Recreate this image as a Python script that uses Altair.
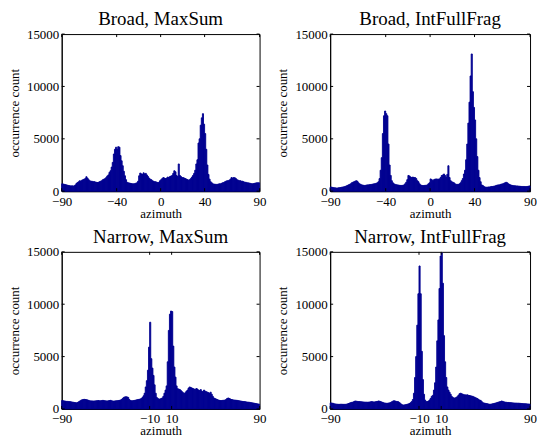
import altair as alt
import pandas as pd

# 1-degree azimuth bins, starting at -90 .. 89
BIN_START = list(range(-90, 90))

BROAD_MAXSUM = [
    700, 680, 650, 620, 600, 560, 540, 520, 500, 520,
    480, 520, 600, 750, 820, 900, 1000, 950, 1050, 1100,
    1150, 1200, 1380, 1250, 1100, 1000, 950, 950, 900, 920,
    880, 850, 830, 850, 900, 950, 1000, 1100, 1150, 1200,
    1300, 1450, 1550, 1800, 1950, 2300, 2750, 3550, 4000, 4200,
    4000, 4250, 4200, 3400, 2900, 2430, 1900, 1470, 1100, 850,
    800, 780, 750, 720, 700, 700, 720, 760, 800, 950,
    1470, 1730, 1650, 1600, 1750, 1650, 1700, 1550, 1400, 1250,
    1150, 1100, 1000, 950, 900, 900, 850, 820, 850, 1000,
    1100, 1200, 1300, 1250, 1200, 1250, 1350, 1300, 1400, 1450,
    1500, 1700, 1950, 1850, 1500, 1400, 2600, 1500, 1400, 1300,
    1300, 1250, 1200, 1150, 1100, 1050, 1100, 1200, 1350, 1500,
    1700, 2000, 2600, 3000, 4600, 5000, 6300, 7000, 7400, 6400,
    5500, 4000, 2500, 1600, 1150, 900, 800, 700, 680, 660,
    650, 650, 680, 700, 700, 750, 800, 830, 900, 950,
    1000, 1000, 1050, 1150, 1300, 1250, 1300, 1280, 1200, 1100,
    1050, 1000, 1000, 950, 950, 900, 850, 850, 800, 800,
    780, 750, 720, 700, 720, 750, 780, 800, 800, 800,
]

BROAD_INTFULLFRAG = [
    400, 380, 350, 330, 320, 300, 300, 320, 330, 350,
    380, 400, 420, 450, 500, 550, 600, 650, 700, 800,
    850, 900, 950, 1000, 950, 800, 700, 650, 600, 580,
    550, 550, 580, 600, 600, 620, 630, 650, 680, 700,
    720, 750, 800, 900, 1200, 2000, 3200, 5500, 7200, 7650,
    7400, 7200, 4500, 2500, 1500, 1000, 800, 700, 650, 620,
    600, 580, 560, 550, 550, 560, 600, 700, 850, 1100,
    1500, 1450, 1350, 1300, 1350, 1300, 1300, 1200, 1000, 900,
    700, 600, 550, 540, 540, 560, 560, 600, 700, 800,
    1170, 1100, 1000, 1100, 1150, 1170, 1150, 1150, 1170, 1300,
    1490, 1550, 1640, 1500, 1330, 1600, 2430, 1300, 1000, 900,
    850, 800, 700, 650, 650, 650, 700, 800, 1000, 1200,
    1640, 2000, 3000, 4500, 6500, 8500, 11000, 13100, 9500, 8000,
    6800, 5000, 3300, 2000, 1300, 900, 600, 540, 450, 400,
    380, 380, 400, 400, 420, 450, 450, 480, 500, 550,
    580, 600, 600, 650, 680, 700, 750, 800, 850, 800,
    700, 650, 600, 560, 540, 520, 520, 500, 500, 480,
    470, 460, 450, 450, 450, 440, 440, 450, 470, 500,
]

NARROW_MAXSUM = [
    800, 780, 760, 740, 720, 720, 700, 700, 680, 660,
    640, 620, 600, 580, 620, 680, 750, 820, 870, 900,
    920, 900, 880, 860, 820, 780, 770, 770, 760, 760,
    770, 780, 790, 800, 780, 780, 800, 820, 800, 780,
    770, 760, 780, 800, 820, 780, 760, 750, 770, 780,
    790, 800, 820, 850, 900, 1000, 1100, 1150, 1170, 1150,
    1100, 900, 800, 780, 780, 800, 820, 850, 880, 900,
    920, 950, 1000, 1100, 1250, 1500, 2100, 2700, 3700, 5900,
    8280, 4800, 3900, 3200, 2300, 1500, 1100, 1000, 950, 950,
    1000, 1050, 1200, 1500, 1800, 2200, 4500, 7500, 9050, 9350,
    9300, 6000, 4000, 3040, 2200, 1930, 1900, 1850, 1750, 1650,
    1550, 1470, 1550, 1700, 1800, 2000, 2100, 2050, 2000, 1950,
    1900, 1850, 1950, 1900, 1800, 1750, 1850, 1700, 1650, 1800,
    1700, 1650, 1600, 1550, 1500, 1600, 1400, 1200, 1050, 1000,
    950, 900, 850, 820, 800, 800, 820, 830, 850, 900,
    1000, 1050, 1000, 950, 900, 880, 850, 850, 830, 820,
    800, 780, 760, 740, 720, 700, 700, 680, 660, 650,
    640, 620, 600, 580, 560, 540, 520, 500, 480, 460,
]

NARROW_INTFULLFRAG = [
    580, 560, 540, 500, 480, 460, 450, 440, 440, 450,
    450, 440, 440, 440, 450, 480, 520, 560, 600, 630,
    650, 700, 760, 740, 720, 700, 700, 690, 680, 670,
    660, 650, 650, 640, 650, 660, 680, 700, 680, 660,
    680, 700, 720, 760, 740, 700, 660, 620, 580, 560,
    540, 540, 560, 580, 620, 680, 740, 790, 760, 720,
    700, 680, 600, 500, 420, 380, 380, 400, 420, 450,
    480, 520, 600, 700, 900, 1500, 3000, 5000, 8000, 11000,
    13650, 11000, 5500, 2800, 1400, 850, 700, 700, 750, 850,
    1000, 1200, 1300, 1800, 2500, 4000, 6500, 8500, 11500, 14600,
    14900, 12000, 7000, 4500, 3000, 2100, 1800, 1600, 1400, 1200,
    1100, 1050, 1050, 1100, 1170, 1300, 1450, 1500, 1450, 1400,
    1350, 1350, 1330, 1350, 1300, 1280, 1250, 1230, 1200, 1150,
    1100, 1050, 1000, 920, 850, 820, 700, 600, 570, 540,
    520, 500, 470, 450, 450, 470, 500, 520, 550, 580,
    620, 650, 680, 700, 760, 720, 680, 650, 640, 620,
    620, 600, 600, 590, 580, 570, 560, 560, 550, 550,
    540, 530, 520, 510, 500, 500, 490, 480, 470, 460,
]

TITLES = ["Broad, MaxSum", "Broad, IntFullFrag", "Narrow, MaxSum", "Narrow, IntFullFrag"]
SERIES = [BROAD_MAXSUM, BROAD_INTFULLFRAG, NARROW_MAXSUM, NARROW_INTFULLFRAG]
XTICKS_BROAD = [-90, -40, 0, 40, 90]
XTICKS_NARROW = [-90, -10, 10, 90]
XTICKS = [XTICKS_BROAD, XTICKS_BROAD, XTICKS_NARROW, XTICKS_NARROW]
YTICKS = [0, 5000, 10000, 15000]

FONT = "Liberation Serif"
BAR = "#000090"
W_LEFT, W_RIGHT, H = 199, 201, 158
TL = 3  # inward tick length (px)


def panel(title, counts, xticks, width):
    df = pd.DataFrame({
        "a": BIN_START,
        "a2": [b + 1 for b in BIN_START],
        "count": counts,
    })
    xs = alt.Scale(domain=[-90, 90], nice=False, zero=False)
    ys = alt.Scale(domain=[0, 15000], nice=False)
    xax = alt.Axis(values=xticks, format="d", title="azimuth",
                   ticks=False, grid=False, labelPadding=4, titlePadding=-1,
                   labelFlush=False, labelOverlap=False)
    yax = alt.Axis(values=YTICKS, format="d", title="occurrence count",
                   ticks=False, grid=False, labelPadding=3, titlePadding=5,
                   labelFlush=False, labelOverlap=False)
    bars = alt.Chart(df).mark_rect(color=BAR, stroke=BAR, strokeWidth=0.9).encode(
        x=alt.X("a:Q", scale=xs, axis=xax),
        x2="a2",
        y=alt.Y("count:Q", scale=ys, axis=yax),
        y2=alt.datum(0),
    )
    xt = pd.DataFrame({"t": xticks})
    yt = pd.DataFrame({"t": YTICKS})
    xb = alt.Chart(xt).mark_rule(color="black", strokeWidth=1).encode(
        x=alt.X("t:Q", scale=xs, axis=xax), y=alt.value(H), y2=alt.value(H - TL))
    xtop = alt.Chart(xt).mark_rule(color="black", strokeWidth=1).encode(
        x=alt.X("t:Q", scale=xs, axis=xax), y=alt.value(0), y2=alt.value(TL))
    yl = alt.Chart(yt).mark_rule(color="black", strokeWidth=1).encode(
        y=alt.Y("t:Q", scale=ys, axis=yax), x=alt.value(0), x2=alt.value(TL))
    yr = alt.Chart(yt).mark_rule(color="black", strokeWidth=1).encode(
        y=alt.Y("t:Q", scale=ys, axis=yax), x=alt.value(width - TL), x2=alt.value(width))
    return alt.layer(bars, xb, xtop, yl, yr).properties(
        width=width, height=H,
        title=alt.TitleParams(title, font=FONT, fontSize=19, fontWeight="normal",
                              color="black", offset=-1),
    )


p = [panel(TITLES[i], SERIES[i], XTICKS[i], W_LEFT if i % 2 == 0 else W_RIGHT)
     for i in range(4)]

chart = alt.vconcat(
    alt.hconcat(p[0], p[1], spacing=10),
    alt.hconcat(p[2], p[3], spacing=10),
    spacing=6,
).configure(padding=0).configure_view(
    stroke="black", strokeWidth=1
).configure_axis(
    labelFont=FONT, titleFont=FONT, labelFontSize=13, titleFontSize=13,
    titleFontWeight="normal", labelColor="black", titleColor="black",
    domainColor="black", domainWidth=1,
)

chart.save("out.html", embed_options={"renderer": "svg", "actions": False})
